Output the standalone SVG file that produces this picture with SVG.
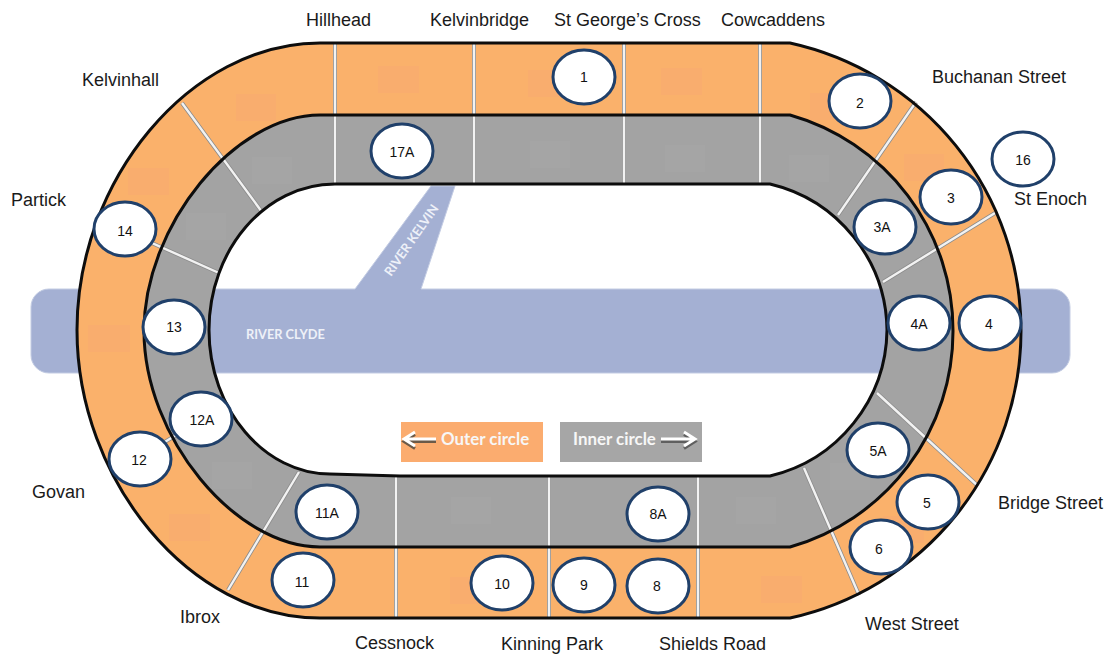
<svg xmlns="http://www.w3.org/2000/svg" width="1107" height="654" viewBox="0 0 1107 654">
<defs>
<style>
.river{fill:#a4b0d3;stroke:#c3cce3;stroke-width:1}
.outer{fill:#fab16b;fill-rule:evenodd}
.inner{fill:#a3a3a3;fill-rule:evenodd}
.edge{fill:none;stroke:#0d0d0d;stroke-width:3}
.po{fill:#f9ad6e}
.pg{fill:#a5a5a5}
.sepb{stroke:#8c8c8c;stroke-width:4;fill:none}
.sep{stroke:#f2f2f2;stroke-width:2.4;fill:none}
.stop{fill:#fff;stroke:#20406a;stroke-width:3}
.num{font:14px "Liberation Sans",Arial,sans-serif;fill:#111;text-anchor:middle}
.lab{font:18px "Liberation Sans",Arial,sans-serif;fill:#1a1a1a}
.riv{font:bold 12.8px Lato,"Open Sans",sans-serif;fill:#eef1f8}
.leg{font:bold 16.9px Lato,"Open Sans",sans-serif;fill:#f7f7f7}
</style>
<ellipse id="e" rx="31" ry="27"/>
</defs>
<rect width="1107" height="654" fill="#fff"/>
<g id="rivers">
<path class="river" d="M49,289H355L431,186H455L421,289H1052A18,18 0 0 1 1070,307V355A18,18 0 0 1 1052,373H49A18,18 0 0 1 31,355V307A18,18 0 0 1 49,289Z"/>
<text class="riv" x="246" y="339">RIVER CLYDE</text>
<text class="riv" transform="translate(391,277) rotate(-55)">RIVER KELVIN</text>
</g>
<g id="track">
<path class="outer" d="M320,43H790A294,294 0 0 1 1021,330A294,294 0 0 1 790,618H320C190,618 77,480 77,330C77,180 190,43 320,43ZM320,115C235,115 144,225 144,331C144,437 235,547 320,547H790A224,224 0 0 0 953,331A224,224 0 0 0 790,115Z"/>
<path class="inner" d="M320,115H790A224,224 0 0 1 953,331A224,224 0 0 1 790,547H320C235,547 144,437 144,331C144,225 235,115 320,115ZM335,184C265,184 209,250 209,330C209,410 265,474 330,474L400,476H770A152,152 0 0 0 887,330A152,152 0 0 0 770,184Z"/>
<g id="patches">
<rect class="po" x="236" y="94" width="40" height="27"/><rect class="po" x="128" y="168" width="41" height="27"/><rect class="po" x="378" y="66" width="41" height="27"/><rect class="po" x="88" y="325" width="42" height="27"/><rect class="po" x="169" y="514" width="41" height="27"/><rect class="po" x="528" y="70" width="41" height="27"/><rect class="po" x="661" y="68" width="41" height="27"/><rect class="po" x="810" y="93" width="41" height="27"/><rect class="po" x="904" y="154" width="40" height="27"/><rect class="po" x="450" y="577" width="41" height="27"/><rect class="po" x="761" y="576" width="41" height="27"/><rect class="po" x="883" y="516" width="41" height="27"/>
<rect class="pg" x="252" y="157" width="40" height="27"/><rect class="pg" x="186" y="213" width="40" height="27"/><rect class="pg" x="212" y="462" width="40" height="27"/><rect class="pg" x="530" y="141" width="40" height="27"/><rect class="pg" x="665" y="145" width="40" height="27"/><rect class="pg" x="789" y="155" width="40" height="27"/><rect class="pg" x="736" y="497" width="40" height="27"/><rect class="pg" x="451" y="497" width="40" height="27"/><rect class="pg" x="830" y="463" width="40" height="27"/>
</g>
</g>
<g id="connectors">
<path class="sepb" d="M335,43V184M474,43V184M624,43V184M760,43V184M182,103L262,212M105,222L219,273M916,102L838,215M995,213L883,282M978,486L877,393M859,595L804,468M228,590L299,472M396,476V618M549,476V618M698,476V618M140,457L201,420"/>
<path class="sep" d="M335,43V184M474,43V184M624,43V184M760,43V184M182,103L262,212M105,222L219,273M916,102L838,215M995,213L883,282M978,486L877,393M859,595L804,468M228,590L299,472M396,476V618M549,476V618M698,476V618M140,457L201,420"/>
</g>
<g id="track-edges">
<path class="edge" d="M320,43H790A294,294 0 0 1 1021,330A294,294 0 0 1 790,618H320C190,618 77,480 77,330C77,180 190,43 320,43Z"/>
<path class="edge" d="M320,115H790A224,224 0 0 1 953,331A224,224 0 0 1 790,547H320C235,547 144,437 144,331C144,225 235,115 320,115Z"/>
<path class="edge" d="M335,184H770A152,152 0 0 1 887,330A152,152 0 0 1 770,476H400L330,474C265,474 209,410 209,330C209,250 265,184 335,184Z"/>
</g>
<g id="stop-1"><use href="#e" class="stop" x="584" y="77"/><text class="num" x="584" y="82">1</text></g>
<g id="stop-2"><use href="#e" class="stop" x="860" y="101"/><text class="num" x="860" y="108">2</text></g>
<g id="stop-16"><use href="#e" class="stop" x="1023" y="159"/><text class="num" x="1023" y="165">16</text></g>
<g id="stop-3"><use href="#e" class="stop" x="951" y="197"/><text class="num" x="951" y="203">3</text></g>
<g id="stop-3A"><use href="#e" class="stop" x="885" y="227"/><text class="num" x="882" y="232">3A</text></g>
<g id="stop-4A"><use href="#e" class="stop" x="919" y="323"/><text class="num" x="919" y="329">4A</text></g>
<g id="stop-4"><use href="#e" class="stop" x="990" y="323"/><text class="num" x="989" y="329">4</text></g>
<g id="stop-5A"><use href="#e" class="stop" x="878" y="450"/><text class="num" x="878" y="456">5A</text></g>
<g id="stop-5"><use href="#e" class="stop" x="928" y="502"/><text class="num" x="927" y="508">5</text></g>
<g id="stop-6"><use href="#e" class="stop" x="881" y="547"/><text class="num" x="879" y="554">6</text></g>
<g id="stop-8"><use href="#e" class="stop" x="658" y="586"/><text class="num" x="657" y="591">8</text></g>
<g id="stop-8A"><use href="#e" class="stop" x="658" y="514"/><text class="num" x="658" y="519">8A</text></g>
<g id="stop-9"><use href="#e" class="stop" x="584" y="585"/><text class="num" x="584" y="590">9</text></g>
<g id="stop-10"><use href="#e" class="stop" x="502" y="583"/><text class="num" x="502" y="589">10</text></g>
<g id="stop-11"><use href="#e" class="stop" x="303" y="580"/><text class="num" x="302" y="587">11</text></g>
<g id="stop-11A"><use href="#e" class="stop" x="327" y="512"/><text class="num" x="327" y="518">11A</text></g>
<g id="stop-12"><use href="#e" class="stop" x="140" y="459"/><text class="num" x="139" y="465">12</text></g>
<g id="stop-12A"><use href="#e" class="stop" x="201" y="419"/><text class="num" x="202" y="425">12A</text></g>
<g id="stop-13"><use href="#e" class="stop" x="174" y="327"/><text class="num" x="174" y="332">13</text></g>
<g id="stop-14"><use href="#e" class="stop" x="125" y="229"/><text class="num" x="125" y="236">14</text></g>
<g id="stop-17A"><use href="#e" class="stop" x="402" y="151"/><text class="num" x="402" y="157">17A</text></g>
<g id="labels">
<text class="lab" x="306" y="26">Hillhead</text>
<text class="lab" x="430" y="26">Kelvinbridge</text>
<text class="lab" x="554" y="26">St George’s Cross</text>
<text class="lab" x="721" y="26">Cowcaddens</text>
<text class="lab" x="932" y="83">Buchanan Street</text>
<text class="lab" x="1014" y="205">St Enoch</text>
<text class="lab" x="998" y="509">Bridge Street</text>
<text class="lab" x="865" y="630">West Street</text>
<text class="lab" x="659" y="650">Shields Road</text>
<text class="lab" x="501" y="650">Kinning Park</text>
<text class="lab" x="355" y="649">Cessnock</text>
<text class="lab" x="180" y="623">Ibrox</text>
<text class="lab" x="32" y="498">Govan</text>
<text class="lab" x="11" y="206">Partick</text>
<text class="lab" x="82" y="86">Kelvinhall</text>
</g>
<g id="legend-outer">
<rect x="401" y="422" width="142" height="40" fill="#fbac6f"/>
<path d="M436,440H405M415,433L404,440L415,447" fill="none" stroke="#6b5a48" stroke-width="3" transform="translate(0,1.5)"/>
<path d="M436,439H405M415,432L404,439L415,446" fill="none" stroke="#fff" stroke-width="3"/>
<text class="leg" x="441" y="445">Outer circle</text>
</g>
<g id="legend-inner">
<rect x="560" y="422" width="142" height="40" fill="#a6a6a6"/>
<path d="M661,440H694M684,433L695,440L684,447" fill="none" stroke="#5f5f5f" stroke-width="3" transform="translate(0,1.5)"/>
<path d="M661,439H694M684,432L695,439L684,446" fill="none" stroke="#fff" stroke-width="3"/>
<text class="leg" x="573" y="445">Inner circle</text>
</g>
</svg>
